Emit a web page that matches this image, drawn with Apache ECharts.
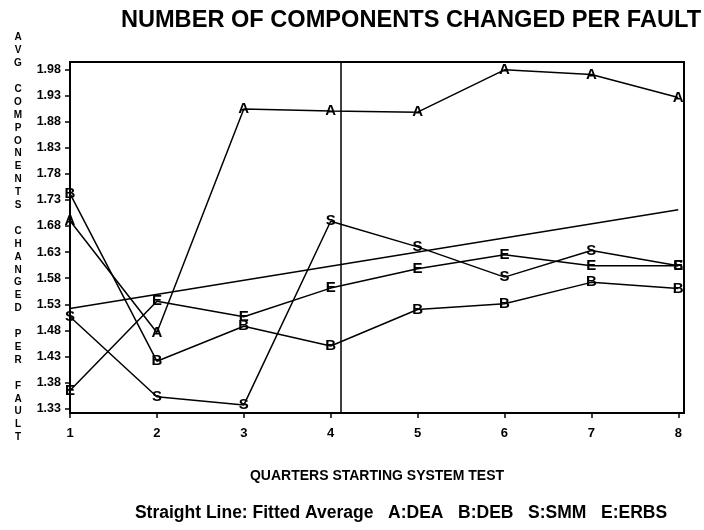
<!DOCTYPE html>
<html>
<head>
<meta charset="utf-8">
<script src="https://cdn.jsdelivr.net/npm/echarts@6/dist/echarts.min.js"></script>
<style>html,body{margin:0;padding:0;background:#fff;}#c{width:704px;height:530px;}</style>
</head>
<body>
<div id="c"></div>
<script>
var quarters = [1, 2, 3, 4, 5, 6, 7, 8];
var seriesA = [1.690, 1.476, 1.904, 1.900, 1.898, 1.979, 1.970, 1.926];
var seriesB = [1.742, 1.421, 1.488, 1.450, 1.520, 1.531, 1.572, 1.560];
var seriesS = [1.506, 1.353, 1.337, 1.689, 1.640, 1.582, 1.633, 1.604];
var seriesE = [1.365, 1.536, 1.506, 1.561, 1.598, 1.625, 1.604, 1.604];
var fitX = [1, 8];
var fitY = [1.522, 1.711];
var yTicks = [1.33, 1.38, 1.43, 1.48, 1.53, 1.58, 1.63, 1.68, 1.73, 1.78, 1.83, 1.88, 1.93, 1.98];
var splitQuarter = 4.12;
var yName = 'AVG COMPONENTS CHANGED PER FAULT';

var FONT = '"Liberation Sans", Arial, sans-serif';
function pairs(xs, ys) { return xs.map(function (x, i) { return [x, ys[i]]; }); }
function letterSeries(name, letter, vals) {
  return {
    name: name, type: 'line', data: pairs(quarters, vals),
    symbol: 'circle', symbolSize: 2, showSymbol: true, showAllSymbol: true,
    itemStyle: { color: 'rgba(0,0,0,0)', borderWidth: 0 },
    lineStyle: { color: '#000', width: 1.5 },
    label: { show: true, position: 'inside', formatter: letter, color: '#000', fontWeight: 'bold', fontSize: 15, fontFamily: FONT },
    labelLayout: { hideOverlap: false },
    emphasis: { disabled: true }, animation: false, z: 3
  };
}
var stacked = yName.split(' ').map(function (w) { return w.split('').join('\n'); }).join('\n\n');

var chart = echarts.init(document.getElementById('c'), null, { renderer: 'canvas' });
chart.setOption({
  backgroundColor: '#fff',
  animation: false,
  title: [
    { text: 'NUMBER OF COMPONENTS CHANGED PER FAULT', left: 406, top: 3, textAlign: 'center',
      textStyle: { fontFamily: FONT, fontWeight: 'bold', fontSize: 23.6, color: '#000' } },
    { text: 'Straight Line: Fitted Average   A:DEA   B:DEB   S:SMM   E:ERBS', left: 396, top: 499, textAlign: 'center',
      textStyle: { fontFamily: FONT, fontWeight: 'bold', fontSize: 17.5, color: '#000' } }
  ],
  grid: { left: 70, right: 20, top: 62, bottom: 117, show: true, borderColor: '#000', borderWidth: 2, backgroundColor: 'transparent' },
  xAxis: {
    type: 'value', min: 1, max: 8.066,
    name: 'QUARTERS STARTING SYSTEM TEST', nameLocation: 'middle', nameGap: 56,
    nameTextStyle: { fontFamily: FONT, fontWeight: 'bold', fontSize: 14, color: '#000' },
    axisLine: { show: true, lineStyle: { color: '#000', width: 2 } },
    axisTick: { show: true, length: 5, lineStyle: { color: '#000', width: 1.5 }, customValues: quarters },
    axisLabel: { customValues: quarters, margin: 14, color: '#000', fontWeight: 'bold', fontSize: 13, fontFamily: FONT },
    splitLine: { show: false }
  },
  yAxis: {
    type: 'value', min: 1.3218, max: 1.994,
    name: stacked, nameLocation: 'middle', nameGap: 52, nameRotate: 0,
    nameTextStyle: { fontFamily: FONT, fontWeight: 'bold', fontSize: 10, lineHeight: 12.9, color: '#000', align: 'center', verticalAlign: 'middle', padding: [8, 0, 0, 0] },
    axisLine: { show: true, lineStyle: { color: '#000', width: 2 } },
    axisTick: { show: true, length: 5, lineStyle: { color: '#000', width: 1.5 }, customValues: yTicks },
    axisLabel: { customValues: yTicks, margin: 9, color: '#000', fontWeight: 'bold', fontSize: 12.5, fontFamily: FONT,
      formatter: function (v) { return v.toFixed(2); } },
    splitLine: { show: false }
  },
  series: [
    {
      name: 'Fitted', type: 'line', data: pairs(fitX, fitY), symbol: 'none',
      lineStyle: { color: '#000', width: 1.5 }, emphasis: { disabled: true }, z: 2,
      markLine: { silent: true, symbol: 'none', label: { show: false },
        lineStyle: { color: '#000', width: 1.5, type: 'solid' }, data: [{ xAxis: splitQuarter }] }
    },
    letterSeries('DEA', 'A', seriesA),
    letterSeries('DEB', 'B', seriesB),
    letterSeries('SMM', 'S', seriesS),
    letterSeries('ERBS', 'E', seriesE)
  ]
});
</script>
</body>
</html>
